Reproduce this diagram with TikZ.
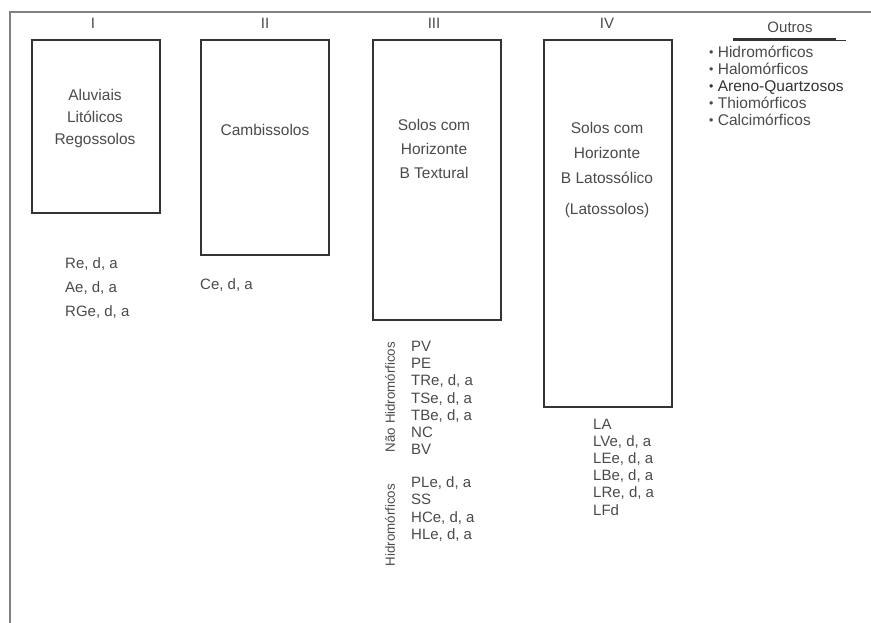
\documentclass[tikz,border=0pt]{standalone}
\usepackage{fontspec}
\setmainfont{Liberation Sans}
\usetikzlibrary{positioning}

\definecolor{tinta}{HTML}{4A4A4A}
\definecolor{traco}{HTML}{333333}
\newcommand{\bul}{\raisebox{0.1ex}{\scalebox{0.8}{\textbullet}}\ }

\begin{document}
\begin{tikzpicture}[x=1pt, y=-1pt,
  ordem/.style={text=tinta, font=\fontsize{15}{17}\selectfont},
  solo/.style={draw=traco, line width=1.7pt, anchor=north west, minimum width=128pt, inner sep=0pt},
  nome/.style={text=tinta, align=center, font=\fontsize{15.5}{22}\selectfont},
  lista/.style={text=tinta, align=left, anchor=west, inner sep=0pt, font=\fontsize{15}{17.2}\selectfont},
  grupo/.style={text=tinta, rotate=90, inner sep=0pt, font=\fontsize{13.3}{15}\selectfont}]
\useasboundingbox (0,0) rectangle (871,623);
% moldura
\draw[gray, line width=1.2pt] (10,623) -- (10,12) -- (871,12);

% classes
\node[ordem] (nI) at (93,23) {I};
\node[ordem] (nII) at (265,23) {II};
\node[ordem] (nIII) at (434,23) {III};
\node[ordem] (nIV) at (607,23) {IV};

\node[solo, minimum height=173pt] (boxI) at (31,39) {};
\node[solo, minimum height=215pt] (boxII) at (200,39) {};
\node[solo, minimum height=280pt] (boxIII) at (372,39) {};
\node[solo, minimum height=367pt] (boxIV) at (543,39) {};

\node[nome] (txI) at (95,118) {Aluviais\\Litólicos\\Regossolos};
\node[nome] (txII) at (265,130) {Cambissolos};
\node[nome, font=\fontsize{15.5}{24}\selectfont] (txIII) at (434,149) {Solos com\\Horizonte\\B Textural};
\node[nome, font=\fontsize{15.5}{25}\selectfont] (txIV) at (607,170) {Solos com\\Horizonte\\B Latossólico\\[6pt](Latossolos)};

% unidades
\node[lista, font=\fontsize{15}{24}\selectfont] (lsI) at (65,288) {Re, d, a\\Ae, d, a\\RGe, d, a};
\node[lista] (lsII) at (200,285) {Ce, d, a};
\node[lista] (lsIIIa) at (411,398) {PV\\PE\\TRe, d, a\\TSe, d, a\\TBe, d, a\\NC\\BV};
\node[lista] (lsIIIb) at (411,509) {PLe, d, a\\SS\\HCe, d, a\\HLe, d, a};
\node[grupo] (gNH) at (390,397) {Não Hidromórficos};
\node[grupo] (gH) at (390,525) {Hidromórficos};
\node[lista] (lsIV) at (593,467) {LA\\LVe, d, a\\LEe, d, a\\LBe, d, a\\LRe, d, a\\LFd};

% outros
\node[ordem] (outros) at (790,27) {Outros};
\draw[traco, line width=3pt] (733,40) -- (836,40);
\draw[traco, line width=0.8pt] (836,40) -- (846,40);
\node[lista, font=\fontsize{15.5}{17}\selectfont] (lsOut) at (709,86)
  {\bul Hidromórficos\\\bul Halomórficos\\{\color{traco}\bul Areno-Quartzosos}\\\bul Thiomórficos\\\bul Calcimórficos};
\end{tikzpicture}
\end{document}
